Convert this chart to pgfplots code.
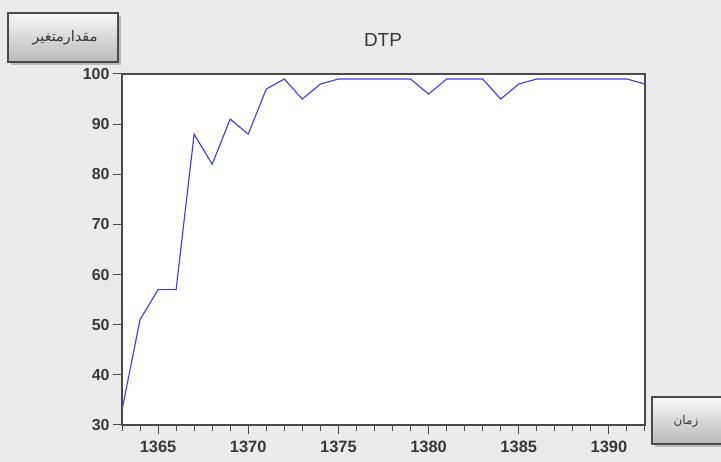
\documentclass[border=0pt]{standalone}
\usepackage{fontspec}
\setmainfont{Liberation Sans}
\usepackage{pgfplots}
\pgfplotsset{compat=1.18}
\TeXXeTstate=1
\newfontfamily\arabicfont[Script=Arabic]{DejaVu Sans}
\definecolor{bg}{HTML}{EBEBEB}
\definecolor{linec}{HTML}{4040E4}
\definecolor{framec}{HTML}{4A4A4A}
\definecolor{labc}{HTML}{383838}
\begin{document}
\begin{tikzpicture}[x=1bp,y=1bp]
\useasboundingbox (0,0) rectangle (721,462);
\fill[bg] (0,0) rectangle (721,462);
\begin{axis}[
  at={(122bp,37bp)}, anchor=south west,
  scale only axis, width=523bp, height=351bp,
  xmin=1363, xmax=1392, ymin=30, ymax=100,
  axis background/.style={fill=white},
  axis line style={framec, line width=1.2pt},
  xtick={1365,1370,...,1390}, minor xtick={1363,...,1392},
  ytick={30,40,...,100},
  tick align=outside, tick pos=left,
  major tick length=9bp, minor tick length=6bp,
  every tick/.style={framec, line width=1pt},
  minor tick style={framec, line width=1pt},
  /pgf/number format/1000 sep={},
  /pgf/number format/assume math mode=true,
  ticklabel style={font=\bfseries\fontsize{16}{18}\selectfont, text=labc},
  xticklabel style={yshift=-4bp, font=\bfseries\fontsize{16.5}{18}\selectfont},
]
\addplot[linec, line width=1.15pt, mark=none] coordinates {
(1363,33) (1364,51) (1365,57) (1366,57) (1367,88) (1368,82) (1369,91)
(1370,88) (1371,97) (1372,99) (1373,95) (1374,98) (1375,99) (1376,99)
(1377,99) (1378,99) (1379,99) (1380,96) (1381,99) (1382,99) (1383,99)
(1384,95) (1385,98) (1386,99) (1387,99) (1388,99) (1389,99) (1390,99)
(1391,99) (1392,98)
};
\end{axis}
\node[font=\fontsize{19}{21}\selectfont, text=labc] at (383,422) {DTP};
% top-left box
\fill[gray!55] (11,397) rectangle (121,446);
\shade[top color=white!95!gray, bottom color=gray!55, draw=framec, line width=1.5pt] (8,400) rectangle (118,449);
\node[font=\arabicfont\fontsize{14.5}{16}\selectfont, text=labc] at (65,424.5) {\beginR مقدارمتغیر\endR};
% bottom-right box
\fill[gray!55] (655,15) rectangle (724,62);
\shade[top color=white!95!gray, bottom color=gray!55, draw=framec, line width=1.5pt] (652,18) rectangle (724,65);
\node[font=\arabicfont\fontsize{12}{14}\selectfont, text=labc] at (686,41) {\beginR زمان\endR};
\end{tikzpicture}
\end{document}
